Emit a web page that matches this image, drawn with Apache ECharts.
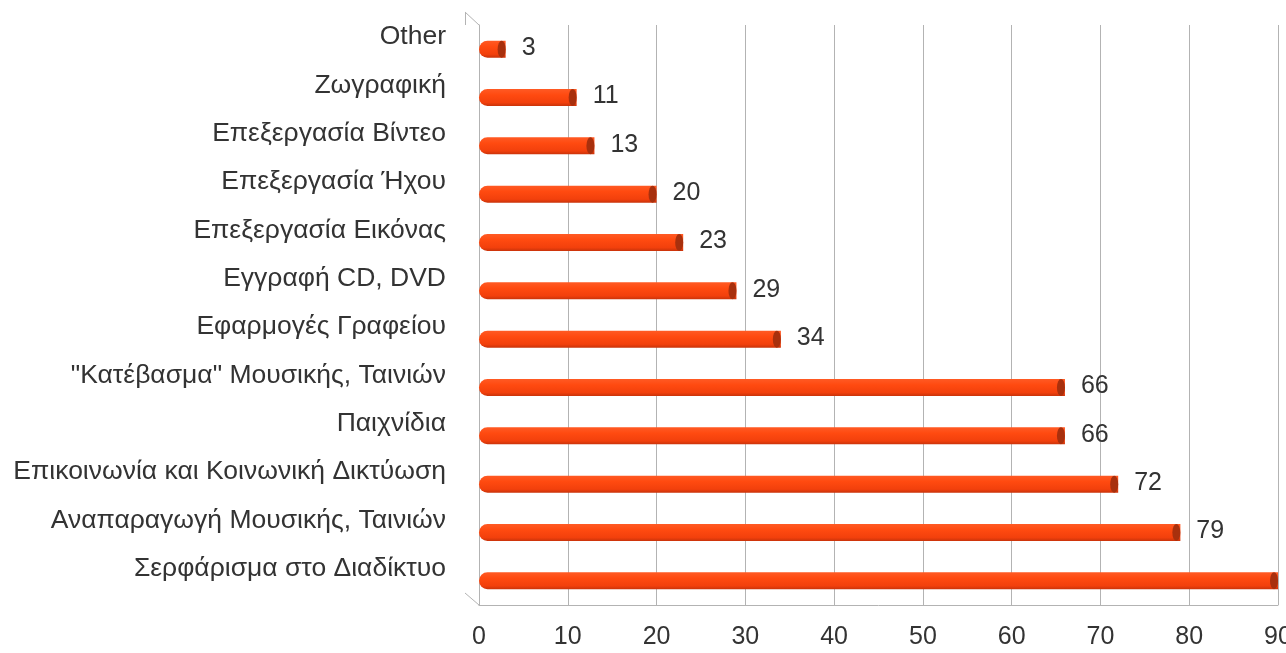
<!DOCTYPE html>
<html><head><meta charset="utf-8">
<script src="https://cdn.jsdelivr.net/npm/echarts@6/dist/echarts.min.js"></script>
<style>html,body{margin:0;padding:0;background:#fff}#c{width:1286px;height:653px}</style>
</head><body><div id="c"></div>
<script>
const categories = [
  "Σερφάρισμα στο Διαδίκτυο",
  "Αναπαραγωγή Μουσικής, Ταινιών",
  "Επικοινωνία και Κοινωνική Δικτύωση",
  "Παιχνίδια",
  "\"Κατέβασμα\" Μουσικής, Ταινιών",
  "Εφαρμογές Γραφείου",
  "Εγγραφή CD, DVD",
  "Επεξεργασία Εικόνας",
  "Επεξεργασία Ήχου",
  "Επεξεργασία Βίντεο",
  "Ζωγραφική",
  "Other"
];
const values = [90, 79, 72, 66, 66, 34, 29, 23, 20, 13, 11, 3];
const xTicks = { min: 0, max: 90, interval: 10 };

const FONT = "Liberation Sans, Arial, sans-serif";
const chart = echarts.init(document.getElementById('c'), null, { renderer: 'canvas' });
const option = {
  animation: false,
  backgroundColor: '#ffffff',
  grid: { left: 479, right: 8, top: 25, bottom: 48, containLabel: false, outerBoundsMode: 'none' },
  xAxis: {
    type: 'value', min: xTicks.min, max: xTicks.max, interval: xTicks.interval,
    axisLine: { show: true, lineStyle: { color: '#b3b3b3', width: 1 } },
    axisTick: { show: false },
    splitLine: { show: true, lineStyle: { color: '#b3b3b3', width: 1 } },
    axisLabel: { color: '#333', fontSize: 25, fontFamily: FONT, margin: 20, showMaxLabel: true }
  },
  yAxis: {
    type: 'category', data: categories, offset: 14,
    axisLine: { show: true, lineStyle: { color: '#b3b3b3', width: 1 } },
    axisTick: { show: false },
    axisLabel: { color: '#333', fontSize: 26.5, fontFamily: FONT, margin: 19,
                 verticalAlign: 'bottom', lineHeight: 24 }
  },
  series: [
    {
      type: 'bar', data: values, barWidth: 17, barGap: '-100%',
      itemStyle: {
        borderRadius: [9, 0, 0, 9],
        color: new echarts.graphic.LinearGradient(0, 0, 0, 1, [
          { offset: 0, color: '#ff5a24' },
          { offset: 0.35, color: '#ff4a10' },
          { offset: 0.8, color: '#f2400c' },
          { offset: 1, color: '#c9330a' }
        ])
      },
      label: {
        show: true, position: 'right', distance: 16, offset: [0, -1],
        color: '#333', fontSize: 25, fontFamily: FONT
      },
      z: 2
    },
    {
      type: 'pictorialBar', data: values, symbol: 'circle', symbolSize: [8, 17],
      symbolPosition: 'end', symbolOffset: [0, 0], barGap: '-100%',
      itemStyle: { color: '#a8300d' }, z: 3, silent: true
    }
  ]
};
chart.setOption(option);

// 3D frame edges (decorative), derived from axis pixel positions
const x0 = chart.convertToPixel({ xAxisIndex: 0 }, 0);
const topY = 25, botY = 653 - 48;
const fx = x0 - 14;
chart.setOption({
  graphic: [
    { type: 'line', shape: { x1: fx, y1: topY - 13, x2: x0, y2: topY }, style: { stroke: '#b3b3b3', lineWidth: 1 } },
    { type: 'line', shape: { x1: fx, y1: botY - 12, x2: x0, y2: botY }, style: { stroke: '#b3b3b3', lineWidth: 1 } },
    { type: 'line', shape: { x1: fx + 0.5, y1: topY - 13, x2: fx + 0.5, y2: topY }, style: { stroke: '#b3b3b3', lineWidth: 1 } }
  ]
});
</script></body></html>
